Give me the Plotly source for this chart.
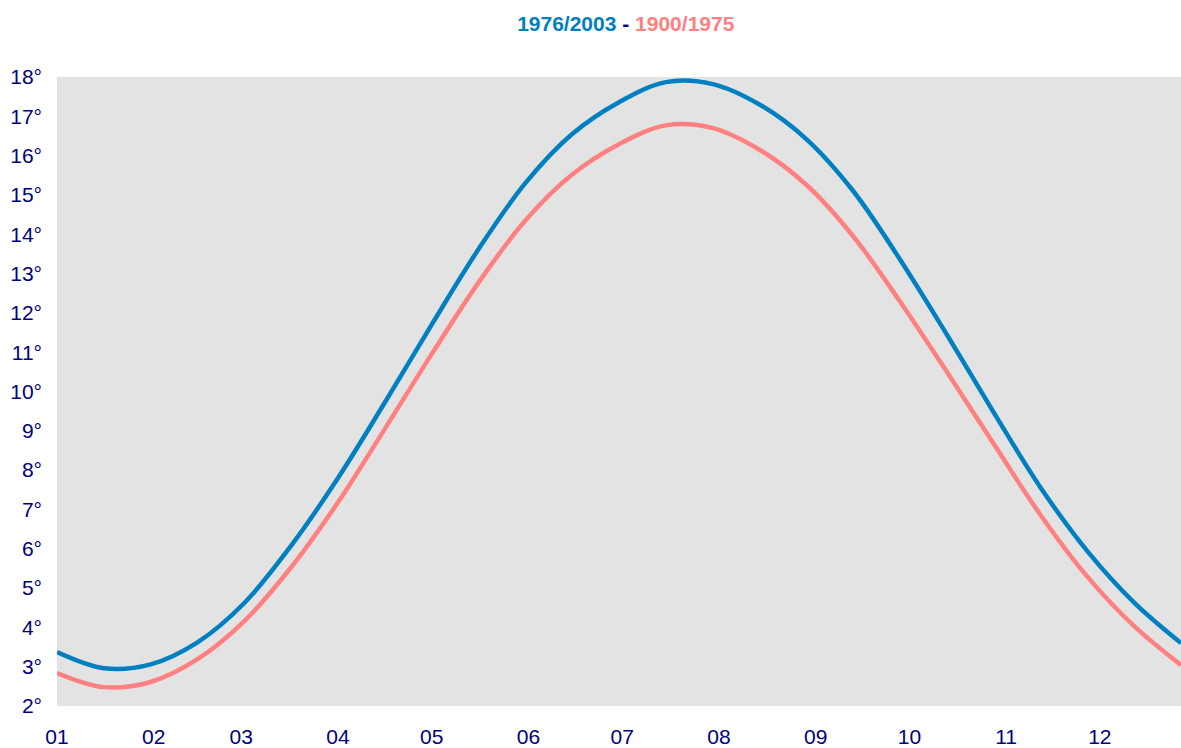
import plotly.graph_objects as go

days = [0, 15, 30, 45, 60, 75, 90, 105, 120, 135, 150, 165, 180, 195, 210, 225,
        240, 255, 270, 285, 300, 315, 330, 345, 360]

temp_1976_2003 = [3.37, 2.96, 3.06, 3.62, 4.62, 6.08, 7.8, 9.72, 11.7, 13.62,
                  15.3, 16.55, 17.36, 17.87, 17.82, 17.3, 16.42, 15.1, 13.36,
                  11.45, 9.47, 7.56, 5.94, 4.63, 3.6]

temp_1900_1975 = [2.84, 2.48, 2.61, 3.19, 4.16, 5.53, 7.18, 9.05, 10.95, 12.77,
                  14.35, 15.52, 16.29, 16.77, 16.7, 16.15, 15.26, 13.95, 12.29,
                  10.5, 8.67, 6.86, 5.29, 4.03, 3.04]

month_starts = [0, 31, 59, 90, 120, 151, 181, 212, 243, 273, 304, 334]
month_labels = ['01', '02', '03', '04', '05', '06', '07', '08', '09', '10', '11', '12']

y_ticks = list(range(2, 19))
y_labels = [f'{v}°' for v in y_ticks]

BLUE = '#0080C0'
PINK = '#FF8080'
NAVY = '#000080'

fig = go.Figure()

fig.add_trace(go.Scatter(
    x=days, y=temp_1900_1975,
    mode='lines',
    line=dict(color=PINK, width=4.5, shape='spline', smoothing=1.0),
    name='1900/1975'
))

fig.add_trace(go.Scatter(
    x=days, y=temp_1976_2003,
    mode='lines',
    line=dict(color=BLUE, width=4.5, shape='spline', smoothing=1.0),
    name='1976/2003'
))

fig.update_layout(
    width=1181, height=748,
    margin=dict(l=57, r=0, t=77, b=40),
    paper_bgcolor='white',
    plot_bgcolor='#E3E3E3',
    showlegend=False,
    font=dict(family='Liberation Sans, Arial, sans-serif', color=NAVY, size=21),
    title=dict(
        text=(f"<b><span style='color:{BLUE}'>1976/2003</span>"
              f"<span style='color:{NAVY}'> - </span>"
              f"<span style='color:{PINK}'>1900/1975</span></b>"),
        xref='paper', x=0.506, xanchor='center',
        yref='container', y=1 - 24 / 748, yanchor='middle',
        font=dict(size=21),
    ),
)

fig.update_xaxes(
    range=[0, 360],
    tickvals=month_starts, ticktext=month_labels,
    showgrid=False, zeroline=False, showline=False,
    ticks='', ticklabelstandoff=16,
    tickfont=dict(size=21, color=NAVY),
)

fig.update_yaxes(
    range=[2, 18],
    tickvals=y_ticks, ticktext=y_labels,
    showgrid=False, zeroline=False, showline=False,
    ticks='', ticklabelstandoff=14,
    tickfont=dict(size=21, color=NAVY),
)

fig.write_html(
    "out.html",
    config={'displayModeBar': False},
    post_script="document.body.style.margin='0';document.body.style.overflow='hidden';",
)
